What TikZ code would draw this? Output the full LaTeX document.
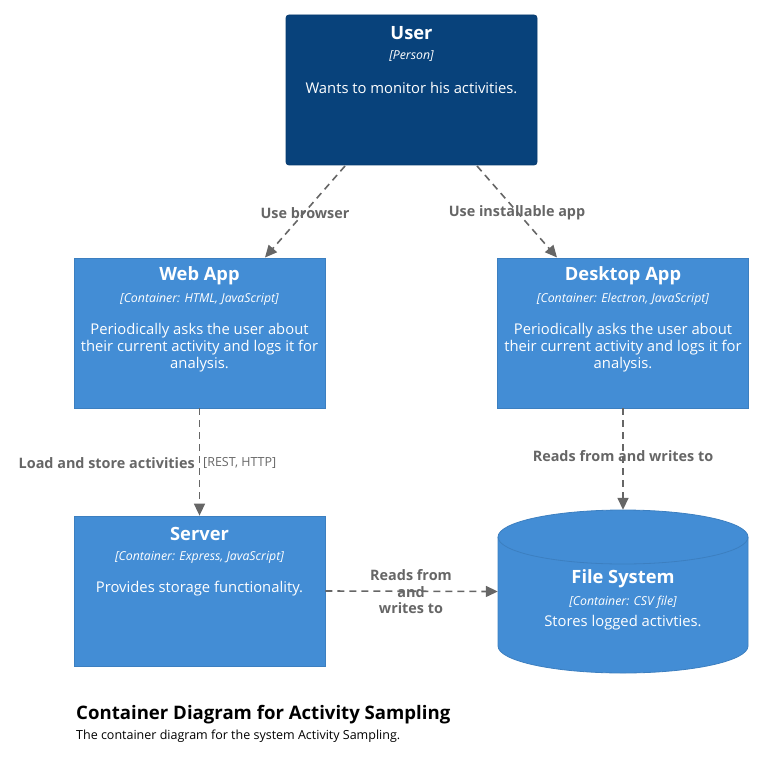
\documentclass[tikz,border=0pt]{standalone}
\usepackage{fontspec}
\setmainfont{Open Sans}
\usetikzlibrary{arrows.meta,calc}
\definecolor{persfill}{HTML}{08427B}
\definecolor{persline}{HTML}{073B6F}
\definecolor{contfill}{HTML}{438DD5}
\definecolor{contline}{HTML}{3C7FC0}
\definecolor{relgray}{HTML}{666666}
\tikzset{
  personbox/.style={draw=persline, fill=persfill, rounded corners=3pt, line width=0.8pt, minimum width=251pt, minimum height=150pt, inner sep=0pt},
  contbox/.style={draw=contline, fill=contfill, line width=0.8pt, minimum width=251pt, minimum height=150pt, inner sep=0pt},
  ttl/.style={text=white, font=\fontsize{18.3}{21}\selectfont\bfseries, inner sep=0pt},
  tech/.style={text=white, font=\fontsize{12.3}{14}\selectfont\itshape, inner sep=0pt},
  desc/.style={text=white, font=\fontsize{14.8}{17}\selectfont, align=center, inner sep=0pt},
  rel/.style={draw=relgray, line width=1.6pt, dash pattern=on 7pt off 5pt, -{Triangle[length=12pt,width=11pt]}},
  rellabel/.style={text=relgray, font=\fontsize{14.4}{16.5}\selectfont\bfseries, align=center, inner sep=0pt},
  techlabel/.style={text=relgray, font=\fontsize{12.5}{14}\selectfont, inner sep=0pt},
}
\begin{document}
\begin{tikzpicture}[x=1pt,y=-1pt]
\useasboundingbox (0,0) rectangle (764,770);
% User
\node[personbox] (user) at (411.5,90) {};
\node[ttl] (userT) at (411.5,33.5) {User};
\node[tech] (userK) at (411.5,56) {[Person]};
\node[desc] (userD) at (411.5,88) {Wants to monitor his activities.};
% Web App
\node[contbox] (web) at (199.5,333) {};
\node[ttl] (webT) at (199.5,276) {Web App};
\node[tech] (webK) at (199.5,299) {[Container: HTML, JavaScript]};
\node[desc] (webD) at (199.5,347.5) {Periodically asks the user about\\their current activity and logs it for\\analysis.};
% Desktop App
\node[contbox] (desk) at (623,333) {};
\node[ttl] (deskT) at (623,276) {Desktop App};
\node[tech] (deskK) at (623,299) {[Container: Electron, JavaScript]};
\node[desc] (deskD) at (623,347.5) {Periodically asks the user about\\their current activity and logs it for\\analysis.};
% Server
\node[contbox] (srv) at (199.5,591) {};
\node[ttl] (srvT) at (199.5,534) {Server};
\node[tech] (srvK) at (199.5,557) {[Container: Express, JavaScript]};
\node[desc] (srvD) at (199.5,589) {Provides storage functionality.};
% File system cylinder
\node[minimum width=250pt, minimum height=163pt, inner sep=0pt] (fs) at (623,591.5) {};
\fill[contfill] (498,537) -- (498,646) arc[start angle=180,end angle=360,x radius=125pt,y radius=27pt] -- (748,537) arc[start angle=0,end angle=180,x radius=125pt,y radius=27pt] -- cycle;
\draw[contline, line width=0.8pt] (498,537) -- (498,646) arc[start angle=180,end angle=360,x radius=125pt,y radius=27pt] -- (748,537) arc[start angle=0,end angle=180,x radius=125pt,y radius=27pt] -- cycle;
\draw[contline, line width=0.8pt] (498,537) arc[start angle=180,end angle=360,x radius=125pt,y radius=27pt];
\node[ttl] (fsT) at (623,579) {File System};
\node[tech] (fsK) at (623,602) {[Container: CSV file]};
\node[desc] (fsD) at (623,623) {Stores logged activties.};
% Relations
\coordinate (u1) at (345,166);
\coordinate (w1) at (265,257.5);
\coordinate (u2) at (477,166);
\coordinate (d1) at (557,257.5);
\draw[rel] (u1) -- (w1);
\node[rellabel] (l1) at (305,213) {Use browser};
\draw[rel] (u2) -- (d1);
\node[rellabel] (l2) at (517,213) {Use installable app};
\draw[rel] (web.south) -- (srv.north);
\node[rellabel, anchor=east] (l3) at (195,463) {Load and store activities};
\node[techlabel, anchor=west] (l3t) at (203,463) {[REST, HTTP]};
\draw[rel] (desk.south) -- (fs.north);
\node[rellabel] (l4) at (623,456) {Reads from and writes to};
\draw[rel] (srv.east) -- (fs.west);
\node[rellabel] (l5) at (411,592) {Reads from\\and\\writes to};
% Footer
\node[anchor=west, font=\fontsize{18.6}{21}\selectfont\bfseries, inner sep=0pt] (ft) at (76,714.5) {Container Diagram for Activity Sampling};
\node[anchor=west, font=\fontsize{12.5}{14}\selectfont, inner sep=0pt] (fs2) at (76,736.5) {The container diagram for the system Activity Sampling.};
\end{tikzpicture}
\end{document}
